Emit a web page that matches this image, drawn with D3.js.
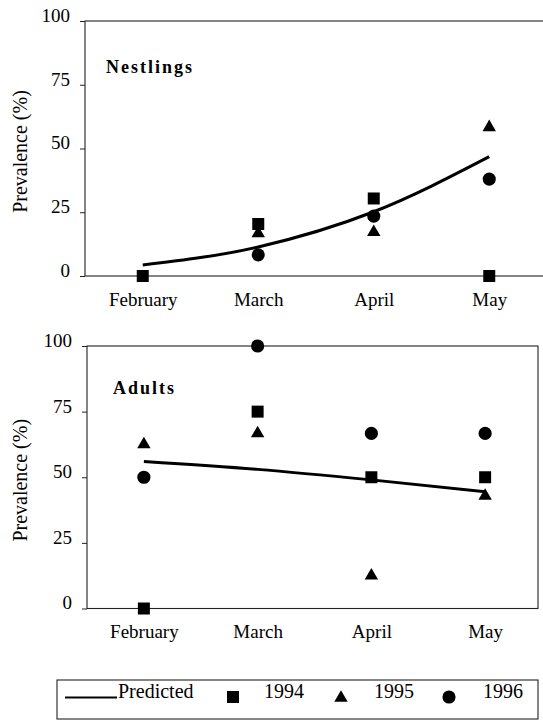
<!DOCTYPE html>
<html>
<head>
<meta charset="utf-8">
<script src="https://cdn.jsdelivr.net/npm/d3@7"></script>
<style>
  body { margin: 0; background: #fff; }
  svg { display: block; }
  text { font-family: "Times New Roman", "Liberation Serif", Times, "Tinos", "DejaVu Serif", serif; fill: #000; }
</style>
</head>
<body>
<div id="chart"></div>
<script>
// categories and ticks
const months = ["February", "March", "April", "May"];
const yTicks = [0, 25, 50, 75, 100];

// Nestlings (% prevalence)
const nest1994 = [0, 20.4, 30.4, 0];
const nest1995 = [null, 16.7, 17.2, 58.3];
const nest1996 = [null, 8.3, 23.5, 38];
const nestPredicted = [4.3, 11.4, 25.2, 46.8];

// Adults
const adult1994 = [0, 75, 50, 50];
const adult1995 = [62.5, 66.7, 12.5, 42.9];
const adult1996 = [50, 100, 66.7, 66.7];
const adultPredicted = [56, 53, 49, 44.5];

const years = ["1994", "1995", "1996"];

const width = 543, height = 720;
const serif = '"Times New Roman", "Liberation Serif", Times, "DejaVu Serif", serif';

const svg = d3.select("#chart").append("svg")
    .attr("width", width)
    .attr("height", height);

// symbol per year
const symbolFor = {
    "1994": d3.symbol(d3.symbolSquare, 144),
    "1995": d3.symbol(d3.symbolTriangle, 78),
    "1996": d3.symbol(d3.symbolCircle, 136)
};

function drawPanel(cfg) {
    const g = svg.append("g");

    const x = d3.scalePoint()
        .domain(months)
        .range(cfg.xRange)
        .padding(0.5);

    const y = d3.scaleLinear()
        .domain([0, 100])
        .range([cfg.bottom, cfg.top]);

    // frame
    g.append("rect")
        .attr("x", cfg.left)
        .attr("y", cfg.top)
        .attr("width", cfg.right - cfg.left)
        .attr("height", cfg.bottom - cfg.top)
        .attr("fill", "none")
        .attr("stroke", "#222")
        .attr("stroke-width", 1.1);

    // y axis
    const yAxis = d3.axisLeft(y)
        .tickValues(yTicks)
        .tickSize(5)
        .tickSizeOuter(0)
        .tickPadding(10);
    const yG = g.append("g")
        .attr("transform", `translate(${cfg.left},0)`)
        .call(yAxis)
        .attr("font-family", serif);
    yG.select(".domain").remove();
    yG.selectAll("line").attr("stroke", "#222");
    yG.selectAll("text")
        .attr("dy", "0.02em")
        .style("font-size", "19px")
        .style("font-family", serif);

    // x axis (labels only)
    const xAxis = d3.axisBottom(x).tickSize(0).tickPadding(16.5);
    const xG = g.append("g")
        .attr("transform", `translate(0,${cfg.bottom})`)
        .call(xAxis)
        .attr("font-family", serif);
    xG.select(".domain").remove();
    xG.selectAll("text")
        .style("font-size", "19px")
        .style("font-family", serif);

    // y title
    g.append("text")
        .attr("transform", `translate(27,${(cfg.top + cfg.bottom) / 2 + 3}) rotate(-90)`)
        .attr("text-anchor", "middle")
        .style("font-size", "20px")
        .style("font-family", serif)
        .text("Prevalence (%)");

    // panel label
    g.append("text")
        .attr("x", cfg.labelX)
        .attr("y", cfg.labelY)
        .style("font-size", "18px")
        .style("font-weight", "bold")
        .style("letter-spacing", "2px")
        .style("font-family", serif)
        .text(cfg.label);

    // predicted line
    const line = d3.line()
        .x((d, i) => x(months[i]))
        .y(d => y(d))
        .curve(d3.curveMonotoneX);
    g.append("path")
        .datum(cfg.predicted)
        .attr("d", line)
        .attr("fill", "none")
        .attr("stroke", "#000")
        .attr("stroke-width", 3);

    // observed points
    cfg.series.forEach((vals, k) => {
        const yr = years[k];
        const pts = vals.map((v, i) => ({month: months[i], value: v}))
            .filter(d => d.value !== null);
        g.selectAll(`.pt-${yr}`)
            .data(pts)
            .join("path")
            .attr("class", `pt-${yr}`)
            .attr("transform", d => `translate(${x(d.month)},${y(d.value)})`)
            .attr("d", symbolFor[yr])
            .attr("fill", "#000");
    });
}

drawPanel({
    label: "Nestlings",
    labelX: 106, labelY: 73,
    left: 85, right: 549, top: 21, bottom: 276,
    xRange: [85, 547],
    predicted: nestPredicted,
    series: [nest1994, nest1995, nest1996]
});

drawPanel({
    label: "Adults",
    labelX: 113, labelY: 394,
    left: 87, right: 538, top: 346, bottom: 608.5,
    xRange: [87, 542],
    predicted: adultPredicted,
    series: [adult1994, adult1995, adult1996]
});

// legend
const legend = svg.append("g").style("font-family", serif);
legend.append("rect")
    .attr("x", 57).attr("y", 680)
    .attr("width", 481).attr("height", 39)
    .attr("fill", "none")
    .attr("stroke", "#222")
    .attr("stroke-width", 1.1);

legend.append("line")
    .attr("x1", 65).attr("x2", 117)
    .attr("y1", 697.5).attr("y2", 697.5)
    .attr("stroke", "#000")
    .attr("stroke-width", 2);
legend.append("text")
    .attr("x", 118).attr("y", 698)
    .style("font-size", "20px")
    .text("Predicted");

const legendSymX = [233, 341, 449];
const legendTextX = [264, 374, 483];
years.forEach((yr, i) => {
    legend.append("path")
        .attr("transform", `translate(${legendSymX[i]},${i === 1 ? 698 : 697})`)
        .attr("d", symbolFor[yr])
        .attr("fill", "#000");
    legend.append("text")
        .attr("x", legendTextX[i]).attr("y", 698)
        .style("font-size", "20px")
        .text(yr);
});
</script>
</body>
</html>
